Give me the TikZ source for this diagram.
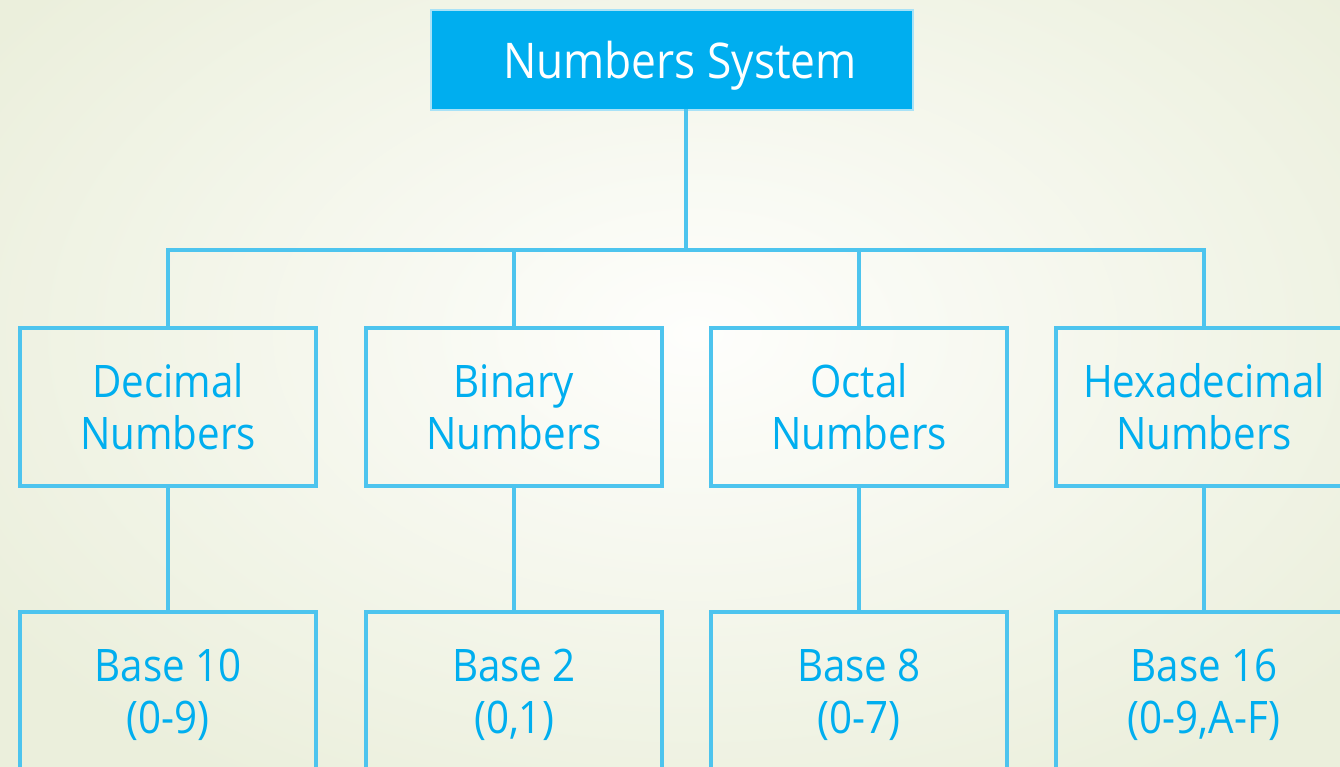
\documentclass[tikz,border=0pt]{standalone}
\usepackage{fontspec}
\newfontfamily\hopfont[FakeStretch=0.9]{Open Sans}
\definecolor{xanh}{HTML}{00AEEF}
\definecolor{vien}{HTML}{4DC4EE}
\definecolor{viennhat}{HTML}{A8E2F7}
\definecolor{nentrong}{HTML}{FEFEFC}
\definecolor{nenngoai}{HTML}{EBEFDC}
\tikzset{
  hop/.style={draw=vien, line width=0.08cm, minimum width=5.92cm, minimum height=3.16cm,
    align=center, text=xanh, inner sep=0pt, font=\hopfont\fontsize{25.5}{29.6}\selectfont},
  noi/.style={draw=vien, line width=0.075cm, line cap=rect}
}

\begin{document}
\begin{tikzpicture}[x=0.02cm,y=-0.02cm]
			\useasboundingbox (0,0) rectangle (1340,767);
			\shade[inner color=nentrong, outer color=nenngoai] (-150,-200) rectangle (1540,867);
			% goc cay
			\node[hop, fill=xanh, draw=viennhat, line width=0.04cm, text=white, text depth=0pt,
			  minimum width=9.64cm, minimum height=2cm, font=\hopfont\fontsize{28}{32}\selectfont]
			  (goc) at (672,60) {\hspace*{0.32cm}Numbers System};
			\coordinate (re) at (686,250);
			\draw[noi] (re |- goc.south) -- (re);
			% cac he dem va co so
			\foreach \ten/\x/\loai/\coso/\chuso in {thap/168/Decimal/10/{(0-9)}, nhi/514/Binary/2/{(0,1)},
			  bat/859/Octal/8/{(0-7)}, thaplucphan/1204/Hexadecimal/16/{(0-9,A-F)}} {
			  \node[hop] (\ten) at (\x,407) {\loai\\Numbers};
			  \node[hop, minimum height=3.32cm] (\ten-cs) at (\x,695) {Base \coso\\\chuso};
			  \draw[noi] (\ten.north) -- (\ten.north |- re);
			  \draw[noi] (\ten.south) -- (\ten-cs.north);
			}
			\draw[noi] (thap.north |- re) -- (thaplucphan.north |- re);
		\end{tikzpicture}
\end{document}
